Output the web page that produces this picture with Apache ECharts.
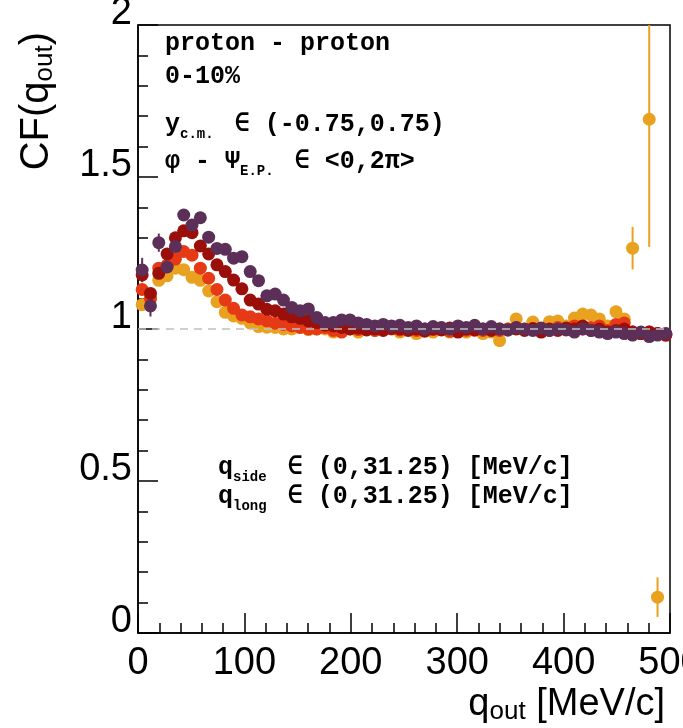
<!DOCTYPE html>
<html lang="en">
<head>
  <meta charset="UTF-8">
  <title>CF(q_out) proton - proton</title>
  <script src="https://cdn.jsdelivr.net/npm/echarts@6/dist/echarts.min.js"></script>
  <style>
    html, body { margin: 0; padding: 0; background: #fff; }
  </style>
</head>
<body>
  <div id="main" style="width:683px; height:728px;"></div>
  <script>
    // binning: 64 bins of 7.8125 MeV/c on q_out
    var binWidth = 7.8125;
    var nBins = 64;

    // CF values per bin
    var cfOrange = [1.08, 1.10, 1.16, 1.175, 1.20, 1.195, 1.17, 1.16, 1.125, 1.09,
      1.055, 1.043, 1.035, 1.02, 1.008, 1.006, 1.005, 1.0, 1.0, 1.005,
      0.998, 1.0, 1.0, 0.99, 1.005, 1.0, 0.99, 1.0, 0.995, 1.0,
      1.005, 0.99, 1.0, 0.985, 1.0, 0.99, 1.0, 0.99, 1.005, 0.99,
      1.0, 0.985, 0.99, 0.962, 1.0, 1.033, 1.0, 1.023, 1.0, 1.024,
      1.026, 1.01, 1.036, 1.049, 1.046, 1.033, 1.01, 1.057, 1.033, 1.266,
      null, 1.69, 0.118, null];
    var cfRed = [1.13, 1.10, 1.20, 1.21, 1.23, 1.255, 1.243, 1.20, 1.167, 1.13,
      1.095, 1.068, 1.046, 1.04, 1.033, 1.027, 1.019, 1.015, 1.01, 1.005,
      1.0, 1.0, 1.005, 0.995, 0.99, 1.003, 0.998, 1.0, 0.995, 1.003,
      1.0, 0.997, 1.002, 0.995, 1.0, 0.998, 1.003, 0.993, 1.0, 0.996,
      1.002, 0.995, 1.0, 0.995, 1.0, 1.005, 0.998, 1.0, 1.002, 0.995,
      1.005, 0.998, 1.01, 1.0, 1.005, 1.01, 0.995, 1.015, 1.02, 0.99,
      0.985, 0.99, 0.985, 0.98];
    var cfDarkRed = [1.178, 1.117, 1.183, 1.247, 1.30, 1.323, 1.317, 1.273, 1.247, 1.211,
      1.189, 1.161, 1.132, 1.095, 1.082, 1.065, 1.06, 1.049, 1.04, 1.035,
      1.027, 1.021, 1.013, 1.01, 1.005, 1.0, 1.003, 0.997, 1.0, 0.995,
      1.002, 1.0, 0.995, 1.0, 0.993, 1.0, 0.997, 1.003, 0.99, 1.0,
      0.996, 1.0, 0.995, 1.0, 0.997, 1.0, 0.995, 1.002, 0.99, 1.0,
      0.995, 1.003, 1.0, 1.01, 0.995, 1.0, 0.99, 0.995, 1.0, 0.99,
      0.985, 0.99, 0.985, 0.98];
    var cfPurple = [1.194, 1.076, 1.284, 1.204, 1.271, 1.375, 1.342, 1.366, 1.302, 1.265,
      1.262, 1.233, 1.238, 1.189, 1.159, 1.109, 1.115, 1.095, 1.071, 1.06,
      1.066, 1.038, 1.021, 1.021, 1.03, 1.03, 1.02, 1.015, 1.01, 1.015,
      1.01, 1.012, 1.005, 1.01, 1.0, 1.008, 1.005, 1.0, 1.01, 1.005,
      1.012, 1.0, 1.008, 1.0, 0.997, 1.005, 1.0, 0.995, 1.003, 0.995,
      1.0, 0.997, 0.99, 1.0, 0.995, 0.99, 0.985, 0.99, 0.985, 0.98,
      0.99, 0.975, 0.98, 0.985];

    // visible error bars: [bin index, error]
    var errOrange = [[57, 0.02], [59, 0.07], [61, 0.42], [62, 0.065]];
    var errPurple = [[0, 0.04], [1, 0.035], [2, 0.03]];

    var xTicks = [0, 100, 200, 300, 400, 500];
    var yTicks = [0, 0.5, 1, 1.5, 2];

    var colors = ['#e9a21f', '#e63a16', '#9b0f0a', '#5c2f58'];

    var centers = [];
    for (var i = 0; i < nBins; i++) centers.push((i + 0.5) * binWidth);

    function points(vals) {
      var out = [];
      for (var i = 0; i < vals.length; i++) {
        if (vals[i] !== null) out.push([centers[i], vals[i]]);
      }
      return out;
    }

    function errBars(vals, errs, color) {
      return {
        type: 'custom',
        clip: true,
        silent: true,
        data: errs.map(function (e) { return [centers[e[0]], vals[e[0]], e[1]]; }),
        renderItem: function (params, api) {
          var x = api.value(0), y = api.value(1), e = api.value(2);
          var p1 = api.coord([x, y + e]);
          var p2 = api.coord([x, y - e]);
          return {
            type: 'line',
            shape: { x1: p1[0], y1: p1[1], x2: p2[0], y2: p2[1] },
            style: { stroke: color, lineWidth: 2 }
          };
        }
      };
    }

    function scatter(vals, color) {
      return {
        type: 'scatter',
        data: points(vals),
        symbol: 'circle',
        symbolSize: 13,
        itemStyle: { color: color, opacity: 1 },
        clip: true
      };
    }

    var monoFont = '"Liberation Mono", "DejaVu Sans Mono", monospace';
    var sansFont = '"Liberation Sans", Arial, sans-serif';
    var subStyle = { fontSize: 14, fontWeight: 'bold', fontFamily: monoFont, verticalAlign: 'bottom', padding: [0, 6, 0, 0] };

    function boxText(x, y, txt) {
      return {
        type: 'text',
        x: x, y: y,
        style: {
          text: txt,
          fontSize: 25, fontWeight: 'bold', fontFamily: monoFont,
          fill: '#000', lineHeight: 32,
          verticalAlign: 'middle', align: 'left',
          rich: { sub: subStyle }
        }
      };
    }

    var chart = echarts.init(document.getElementById('main'));

    var option = {
      animation: false,
      backgroundColor: '#fff',
      grid: {
        left: 138, right: 13, top: 25, bottom: 95,
        outerBoundsMode: 'none', containLabel: false,
        show: true, borderColor: '#000', borderWidth: 1.5
      },
      xAxis: {
        type: 'value', min: xTicks[0], max: xTicks[xTicks.length - 1], interval: 100,
        axisLine: { show: true, lineStyle: { color: '#000', width: 1.5 } },
        axisTick: { inside: true, length: 20, lineStyle: { color: '#000', width: 1.5 } },
        minorTick: { show: true, splitNumber: 5, length: 10, lineStyle: { color: '#000', width: 1.5 } },
        splitLine: { show: false },
        axisLabel: { color: '#000', fontSize: 38, fontFamily: sansFont, margin: 12, showMaxLabel: true, hideOverlap: false }
      },
      yAxis: {
        type: 'value', min: yTicks[0], max: yTicks[yTicks.length - 1], interval: 0.5,
        axisLine: { show: true, lineStyle: { color: '#000', width: 1.5 } },
        axisTick: { inside: true, length: 20, lineStyle: { color: '#000', width: 1.5 } },
        minorTick: { show: true, splitNumber: 5, length: 10, lineStyle: { color: '#000', width: 1.5 } },
        splitLine: { show: false },
        axisLabel: {
          color: '#000', fontSize: 38, fontFamily: sansFont, margin: 6,
          verticalAlign: 'bottom', lineHeight: 22, showMaxLabel: true, hideOverlap: false
        }
      },
      series: [
        errBars(cfOrange, errOrange, colors[0]),
        scatter(cfOrange, colors[0]),
        scatter(cfRed, colors[1]),
        scatter(cfDarkRed, colors[2]),
        errBars(cfPurple, errPurple, colors[3]),
        Object.assign(scatter(cfPurple, colors[3]), {
          markLine: {
            silent: true, symbol: 'none', z: 10,
            label: { show: false },
            lineStyle: { color: '#c0c0c0', type: [8, 6], width: 1.5 },
            data: [{ yAxis: 1 }]
          }
        })
      ],
      graphic: [
        boxText(165, 44, 'proton - proton'),
        boxText(165, 77, '0-10%'),
        boxText(165, 125, 'y{sub|c.m.} ∈ (-0.75,0.75)'),
        boxText(165, 162, 'φ - Ψ{sub|E.P.} ∈ <0,2π>'),
        boxText(218, 468, 'q{sub|side} ∈ (0,31.25) [MeV/c]'),
        boxText(218, 497, 'q{sub|long} ∈ (0,31.25) [MeV/c]'),
        {
          type: 'text', x: 665, y: 705,
          style: {
            text: 'q{s|out} [MeV/c]',
            fontSize: 38, fontFamily: sansFont, fill: '#000',
            lineHeight: 40, align: 'right', verticalAlign: 'middle',
            rich: { s: { fontSize: 26, fontFamily: sansFont, verticalAlign: 'bottom', lineHeight: 40 } }
          }
        },
        {
          type: 'text', x: 37, y: 32, rotation: Math.PI / 2,
          style: {
            text: 'CF(q{s|out})',
            fontSize: 40, fontFamily: sansFont, fill: '#000',
            lineHeight: 42, align: 'right', verticalAlign: 'middle',
            rich: { s: { fontSize: 26, fontFamily: sansFont, verticalAlign: 'bottom', lineHeight: 42 } }
          }
        }
      ]
    };

    chart.setOption(option);
  </script>
</body>
</html>
